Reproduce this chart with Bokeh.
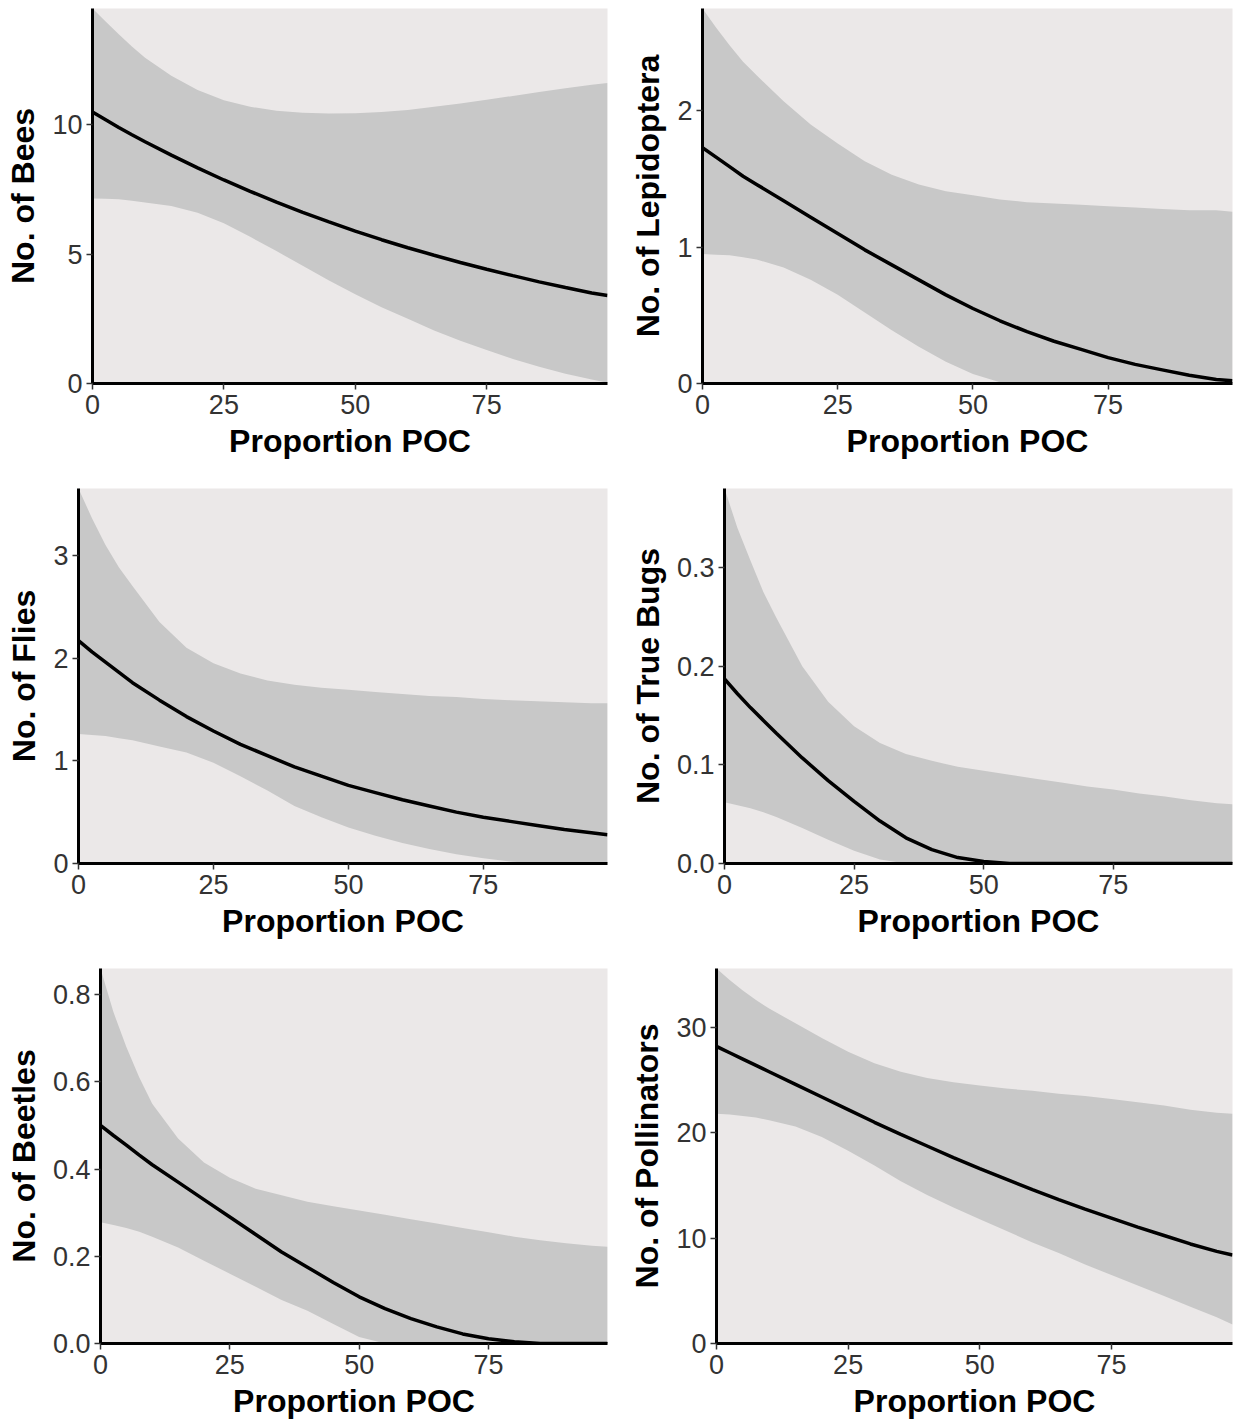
from bokeh.plotting import figure
from bokeh.layouts import column, row
from bokeh.models import Range1d, FixedTicker, NumeralTickFormatter
from bokeh.embed import file_html
from bokeh.resources import INLINE

# ---------------- data ----------------
x_poc = [0, 2.5, 5, 7.5, 10, 15, 20, 25, 30, 35, 40, 45, 50, 55, 60, 65, 70, 75, 80, 85, 90, 95, 98]

bees_fit = [10.5, 10.2, 9.9, 9.62, 9.35, 8.83, 8.34, 7.87, 7.43, 7.01, 6.62, 6.25, 5.89, 5.56, 5.25, 4.96, 4.68, 4.42, 4.17, 3.93, 3.71, 3.5, 3.4]
bees_lo = [7.15, 7.14, 7.12, 7.07, 7.0, 6.86, 6.6, 6.2, 5.67, 5.12, 4.55, 3.98, 3.45, 2.95, 2.5, 2.05, 1.65, 1.3, 0.95, 0.65, 0.38, 0.15, 0.03]
bees_hi = [14.5, 14.0, 13.5, 13.03, 12.6, 11.9, 11.35, 10.95, 10.7, 10.55, 10.47, 10.44, 10.45, 10.5, 10.58, 10.7, 10.83, 10.97, 11.12, 11.27, 11.42, 11.55, 11.62]

lep_fit = [1.73, 1.66, 1.59, 1.52, 1.46, 1.34, 1.22, 1.1, 0.98, 0.87, 0.76, 0.65, 0.55, 0.46, 0.38, 0.31, 0.25, 0.19, 0.14, 0.1, 0.06, 0.03, 0.02]
lep_lo = [0.95, 0.945, 0.94, 0.925, 0.91, 0.85, 0.76, 0.65, 0.52, 0.39, 0.27, 0.16, 0.07, 0.01, 0, 0, 0, 0, 0, 0, 0, 0, 0]
lep_hi = [2.75, 2.61, 2.48, 2.36, 2.26, 2.07, 1.9, 1.76, 1.63, 1.53, 1.46, 1.41, 1.38, 1.35, 1.33, 1.32, 1.31, 1.3, 1.29, 1.28, 1.27, 1.27, 1.26]

fly_fit = [2.17, 2.06, 1.96, 1.86, 1.76, 1.59, 1.43, 1.29, 1.16, 1.05, 0.94, 0.85, 0.76, 0.69, 0.62, 0.56, 0.5, 0.45, 0.41, 0.37, 0.33, 0.3, 0.28]
fly_lo = [1.26, 1.25, 1.24, 1.22, 1.2, 1.14, 1.08, 0.98, 0.85, 0.71, 0.56, 0.45, 0.35, 0.27, 0.2, 0.14, 0.09, 0.05, 0.02, 0.0, 0, 0, 0]
fly_hi = [3.65, 3.36, 3.1, 2.88, 2.7, 2.35, 2.1, 1.95, 1.85, 1.78, 1.74, 1.71, 1.69, 1.67, 1.65, 1.63, 1.62, 1.6, 1.59, 1.58, 1.57, 1.56, 1.56]

bug_fit = [0.187, 0.172, 0.158, 0.145, 0.132, 0.107, 0.084, 0.063, 0.043, 0.026, 0.014, 0.006, 0.002, 0.0, 0, 0, 0, 0, 0, 0, 0, 0, 0]
bug_lo = [0.062, 0.059, 0.056, 0.052, 0.047, 0.036, 0.024, 0.013, 0.004, 0, 0, 0, 0, 0, 0, 0, 0, 0, 0, 0, 0, 0, 0]
bug_hi = [0.38, 0.34, 0.307, 0.275, 0.249, 0.2, 0.164, 0.139, 0.122, 0.111, 0.104, 0.098, 0.094, 0.09, 0.086, 0.082, 0.078, 0.075, 0.071, 0.068, 0.064, 0.061, 0.06]

bee_fit = [0.5, 0.477, 0.455, 0.432, 0.41, 0.37, 0.33, 0.29, 0.25, 0.21, 0.175, 0.14, 0.107, 0.08, 0.057, 0.038, 0.022, 0.011, 0.004, 0.0, 0, 0, 0]
bee_lo = [0.278, 0.272, 0.265, 0.256, 0.245, 0.22, 0.19, 0.16, 0.13, 0.1, 0.075, 0.045, 0.015, 0, 0, 0, 0, 0, 0, 0, 0, 0, 0]
bee_hi = [0.86, 0.76, 0.68, 0.61, 0.55, 0.47, 0.415, 0.38, 0.355, 0.34, 0.325, 0.315, 0.305, 0.295, 0.285, 0.275, 0.265, 0.255, 0.245, 0.237, 0.23, 0.224, 0.222]

pol_fit = [28.2, 27.6, 27.0, 26.4, 25.8, 24.6, 23.4, 22.2, 21.0, 19.85, 18.75, 17.65, 16.6, 15.6, 14.6, 13.65, 12.75, 11.9, 11.05, 10.25, 9.45, 8.75, 8.4]
pol_lo = [21.8, 21.75, 21.6, 21.45, 21.2, 20.6, 19.6, 18.3, 16.9, 15.4, 14.1, 12.9, 11.8, 10.7, 9.6, 8.6, 7.5, 6.5, 5.5, 4.5, 3.5, 2.5, 1.8]
pol_hi = [35.6, 34.5, 33.5, 32.6, 31.8, 30.4, 29.0, 27.7, 26.6, 25.8, 25.2, 24.8, 24.5, 24.2, 24.0, 23.7, 23.5, 23.2, 22.9, 22.6, 22.2, 21.9, 21.8]

x_ticks = [0, 25, 50, 75]
x_label = "Proportion POC"

panels = [
    ("No. of Bees", bees_fit, bees_lo, bees_hi, [0, 5, 10], "0"),
    ("No. of Lepidoptera", lep_fit, lep_lo, lep_hi, [0, 1, 2], "0"),
    ("No. of Flies", fly_fit, fly_lo, fly_hi, [0, 1, 2, 3], "0"),
    ("No. of True Bugs", bug_fit, bug_lo, bug_hi, [0, 0.1, 0.2, 0.3], "0.0"),
    ("No. of Beetles", bee_fit, bee_lo, bee_hi, [0, 0.2, 0.4, 0.6, 0.8], "0.0"),
    ("No. of Pollinators", pol_fit, pol_lo, pol_hi, [0, 10, 20, 30], "0"),
]

# ---------------- layout geometry (pixels) ----------------
LEFT_W, RIGHT_W = 617, 618
ROW_H = [480, 480, 462]
FRAME_LEFT = [92, 85, 78, 107, 100, 99]
BOTTOM = [97, 97, 97, 97, 79, 79]

FONT = "Liberation Sans"
BG = "#EBE8E8"
RIBBON = "#C8C8C8"

figs = []
for i, (ylab, fit, lo, hi, yt, fmt) in enumerate(panels):
    is_left = i % 2 == 0
    w = LEFT_W if is_left else RIGHT_W
    h = ROW_H[i // 2]
    p = figure(width=w, height=h, output_backend="svg", toolbar_location=None,
               x_range=Range1d(0, x_poc[-1]), y_range=Range1d(0, max(hi)),
               min_border_left=FRAME_LEFT[i], min_border_right=(10 if is_left else 3),
               min_border_top=8, min_border_bottom=BOTTOM[i])
    p.background_fill_color = BG
    p.border_fill_color = "white"
    p.outline_line_color = None
    p.grid.visible = False

    p.varea(x=x_poc, y1=lo, y2=hi, fill_color=RIBBON, fill_alpha=1.0)
    p.line(x=x_poc, y=fit, line_color="black", line_width=3.5)

    for ax in (p.xaxis[0], p.yaxis[0]):
        ax.axis_line_color = "black"
        ax.axis_line_width = 3
        ax.major_tick_line_color = "#333333"
        ax.major_tick_line_width = 1.5
        ax.major_tick_out = 6
        ax.major_tick_in = 0
        ax.minor_tick_line_color = None
        ax.major_label_text_font = FONT
        ax.major_label_text_font_size = "27px"
        ax.major_label_text_color = "#333333"
        ax.axis_label_text_font = FONT
        ax.axis_label_text_font_size = "32px"
        ax.axis_label_text_font_style = "bold"
        ax.axis_label_text_color = "black"

    p.xaxis.ticker = FixedTicker(ticks=x_ticks)
    p.xaxis.axis_label = x_label
    p.xaxis.major_label_standoff = 5
    p.xaxis.axis_label_standoff = 6
    p.yaxis.ticker = FixedTicker(ticks=yt)
    p.yaxis.formatter = NumeralTickFormatter(format=fmt)
    p.yaxis.axis_label = ylab
    p.yaxis.major_label_standoff = 4
    p.yaxis.axis_label_standoff = 8
    figs.append(p)

layout = column(row(figs[0], figs[1]), row(figs[2], figs[3]), row(figs[4], figs[5]))

open("out.html", "w").write(file_html(layout, INLINE))
